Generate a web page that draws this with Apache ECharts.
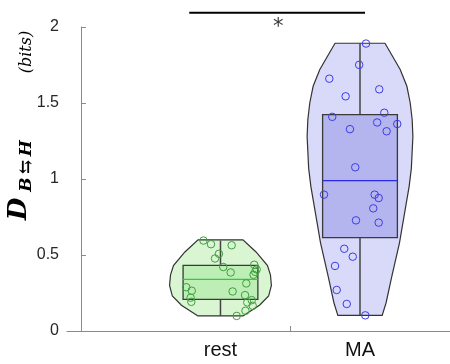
<!DOCTYPE html>
<html>
<head>
<meta charset="utf-8">
<script src="https://cdn.jsdelivr.net/npm/echarts@6/dist/echarts.min.js"></script>
<style>html,body{margin:0;padding:0;background:#fff;}#c{width:450px;height:364px;}</style>
</head>
<body>
<div id="c"></div>
<script>
// ---- data ----
const categories = ['rest', 'MA'];
const catPos = [1, 2];
const yTicks = [0, 0.5, 1, 1.5, 2];

// individual points: horizontal jitter (in category units) and value
const restJitter = [-0.122, -0.068, 0.080, -0.011, -0.039, 0.020, 0.073, 0.242, 0.259, 0.249, 0.237, 0.185, -0.245, -0.206, 0.087, 0.176, -0.214, -0.209, 0.224, 0.192, 0.231, 0.179, 0.116];
const restValues = [0.595, 0.571, 0.564, 0.508, 0.477, 0.421, 0.385, 0.436, 0.405, 0.389, 0.370, 0.313, 0.288, 0.265, 0.260, 0.236, 0.219, 0.192, 0.203, 0.188, 0.166, 0.133, 0.099];
const maJitter = [0.043, -0.006, -0.220, 0.138, -0.103, 0.174, -0.199, 0.123, 0.267, -0.072, 0.191, -0.034, -0.258, 0.105, 0.134, 0.095, -0.029, 0.134, -0.113, -0.052, -0.179, -0.167, -0.095, 0.038];
const maValues = [1.891, 1.751, 1.660, 1.590, 1.544, 1.436, 1.409, 1.372, 1.362, 1.328, 1.314, 1.077, 0.897, 0.897, 0.875, 0.807, 0.728, 0.713, 0.541, 0.489, 0.428, 0.270, 0.178, 0.103];

// box stats: [lower whisker, Q1, median, Q3, upper whisker]
const restBox = [0.099, 0.208, 0.340, 0.432, 0.595];
const maBox = [0.103, 0.614, 0.989, 1.423, 1.893];

// violin density profile: value levels and half widths (category units)
const restViolinY = [0.099, 0.170, 0.230, 0.300, 0.370, 0.430, 0.520, 0.600];
const restViolinW = [0.161, 0.280, 0.345, 0.365, 0.358, 0.337, 0.255, 0.161];
const maViolinY = [0.103, 0.186, 0.360, 0.580, 0.800, 0.950, 1.070, 1.280, 1.390, 1.500, 1.610, 1.720, 1.893];
const maViolinW = [0.159, 0.187, 0.228, 0.283, 0.324, 0.352, 0.368, 0.379, 0.374, 0.360, 0.336, 0.288, 0.179];

// significance
const sigRange = [0.776, 2.036];
const sigLevel = 2.094;
const sigLabel = '*';

// ---- styles ----
const BOX_HW = 0.268;
const styles = [
  {violin: '#d9f5d2', box: '#bdeeb5', median: '#2fcf2f', dot: '#3f9e3f'},
  {violin: '#d9d9f9', box: '#b4b4ef', median: '#2a2ae6', dot: '#3c3ce8'}
];
const OUTLINE = '#333333';

function violinRender(ys, ws, c, st) {
  return function (params, api) {
    const pts = [];
    for (let i = 0; i < ys.length; i++) pts.push(api.coord([c - ws[i], ys[i]]));
    for (let i = ys.length - 1; i >= 0; i--) pts.push(api.coord([c + ws[i], ys[i]]));
    return {type: 'polygon', shape: {points: pts}, style: {fill: st.violin, stroke: OUTLINE, lineWidth: 1.2}};
  };
}
function boxRender(b, c, st) {
  return function (params, api) {
    const tl = api.coord([c - BOX_HW, b[3]]);
    const br = api.coord([c + BOX_HW, b[1]]);
    const mL = api.coord([c - BOX_HW, b[2]]);
    const mR = api.coord([c + BOX_HW, b[2]]);
    const wTop = api.coord([c, b[4]]);
    const q3c = api.coord([c, b[3]]);
    const q1c = api.coord([c, b[1]]);
    const wBot = api.coord([c, b[0]]);
    return {type: 'group', children: [
      {type: 'line', shape: {x1: wTop[0], y1: wTop[1], x2: q3c[0], y2: q3c[1]}, style: {stroke: '#444', lineWidth: 1.5}},
      {type: 'line', shape: {x1: q1c[0], y1: q1c[1], x2: wBot[0], y2: wBot[1]}, style: {stroke: '#444', lineWidth: 1.5}},
      {type: 'rect', shape: {x: tl[0], y: tl[1], width: br[0] - tl[0], height: br[1] - tl[1]}, style: {fill: st.box, stroke: '#3a3a3a', lineWidth: 1.3}},
      {type: 'line', shape: {x1: mL[0], y1: mL[1], x2: mR[0], y2: mR[1]}, style: {stroke: st.median, lineWidth: 1.3}}
    ]};
  };
}

const violinY = [restViolinY, maViolinY];
const violinW = [restViolinW, maViolinW];
const boxes = [restBox, maBox];
const jit = [restJitter, maJitter];
const vals = [restValues, maValues];

const series = [];
for (let k = 0; k < 2; k++) {
  series.push({type: 'custom', silent: true, z: 2, data: [[catPos[k], boxes[k][2]]], renderItem: violinRender(violinY[k], violinW[k], catPos[k], styles[k])});
}
for (let k = 0; k < 2; k++) {
  series.push({type: 'custom', silent: true, z: 3, data: [[catPos[k], boxes[k][2]]], renderItem: boxRender(boxes[k], catPos[k], styles[k])});
}
for (let k = 0; k < 2; k++) {
  series.push({
    type: 'scatter', z: 5, silent: true, symbol: 'circle', symbolSize: 7.5,
    itemStyle: {color: 'rgba(0,0,0,0)', borderColor: styles[k].dot, borderWidth: 1, opacity: 1},
    data: vals[k].map((v, i) => [catPos[k] + jit[k][i], v])
  });
}
series.push({
  type: 'line', clip: false, silent: true, symbol: 'none', z: 6,
  lineStyle: {color: '#000', width: 2},
  data: [[sigRange[0], sigLevel], [sigRange[1], sigLevel]]
});
series.push({
  type: 'scatter', clip: false, silent: true, symbolSize: 0, z: 6,
  label: {show: true, position: 'inside', formatter: sigLabel, fontSize: 21, color: '#000', fontFamily: 'DejaVu Sans', offset: [0, 15]},
  data: [[(sigRange[0] + sigRange[1]) / 2 + 0.008, sigLevel]]
});

const chart = echarts.init(document.getElementById('c'), null, {renderer: 'canvas'});
chart.setOption({
  animation: false,
  backgroundColor: '#fff',
  grid: {left: 67, right: 0, top: 27, bottom: 33, containLabel: false},
  xAxis: {
    type: 'value', min: -0.1, max: 2.645,
    axisLine: {show: true, lineStyle: {color: '#8a8a8a', width: 1}},
    axisTick: {show: true, inside: true, length: 5, customValues: [1.5], lineStyle: {color: '#8a8a8a'}},
    axisLabel: {show: true, customValues: catPos, formatter: v => categories[catPos.indexOf(Math.round(v))] || '', fontSize: 20, color: '#111', fontFamily: 'Liberation Sans', margin: 9},
    splitLine: {show: false}
  },
  yAxis: {
    type: 'value', min: 0, max: 2, interval: 0.5,
    axisLine: {show: true, lineStyle: {color: '#8a8a8a', width: 1}},
    axisTick: {show: true, inside: true, length: 5, lineStyle: {color: '#8a8a8a'}},
    axisLabel: {fontSize: 16, color: '#262626', fontFamily: 'Liberation Sans', margin: 8, formatter: v => String(v)},
    splitLine: {show: false}
  },
  graphic: [
    {type: 'text', x: 19, y: 209, rotation: Math.PI / 2, style: {text: 'D', x: 0, y: 0, align: 'center', verticalAlign: 'middle', font: 'italic bold 26px "DejaVu Serif"', fill: '#000'}},
    {type: 'text', x: 27, y: 166, rotation: Math.PI / 2, style: {text: 'B\u2009⇆\u2009H', x: 0, y: 0, align: 'center', verticalAlign: 'middle', font: 'italic bold 17px "DejaVu Serif"', fill: '#000'}},
    {type: 'text', x: 27, y: 52, rotation: Math.PI / 2, style: {text: '(bits)', x: 0, y: 0, align: 'center', verticalAlign: 'middle', font: 'italic 16px "DejaVu Serif"', fill: '#000'}}
  ],
  series: series
});
</script>
</body>
</html>
